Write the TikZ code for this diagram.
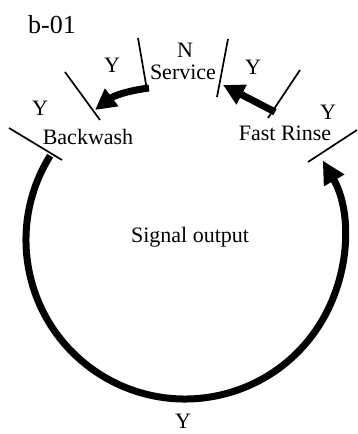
\documentclass[tikz,border=0pt]{standalone}
\usepackage{fontspec}
\setmainfont{Liberation Serif}
\usetikzlibrary{arrows.meta}

\tikzset{
	lbl/.style={inner sep=0pt, font=\fontsize{22}{24}\selectfont},
	tickline/.style={black, line width=1.7pt},
	flow/.style={black, line width=7pt, -{Triangle[length=21pt, width=21pt]}}
}

\begin{document}
\begin{tikzpicture}[x=1pt, y=1pt]
	\useasboundingbox (0,0) rectangle (357,434);
	% ticks between the states
	\coordinate (t1a) at (9,306);   \coordinate (t1b) at (62,274);
	\coordinate (t2a) at (65,362);  \coordinate (t2b) at (100,314);
	\coordinate (t3a) at (138,396); \coordinate (t3b) at (147,344);
	\coordinate (t4a) at (228,395); \coordinate (t4b) at (217,337);
	\coordinate (t5a) at (300,364); \coordinate (t5b) at (268,316);
	\coordinate (t6a) at (357,304); \coordinate (t6b) at (308,272);
	\foreach \i in {1,...,6}
		\draw[tickline] (t\i a) -- (t\i b);

	% labels
	\node[lbl, font=\fontsize{26}{28}\selectfont] (title) at (52,409) {b-01};
	\node[lbl] (n) at (185,384) {N};
	\node[lbl] (service) at (183,362) {Service};
	\node[lbl] (y1) at (112,369) {Y};
	\node[lbl] (y2) at (253,367) {Y};
	\node[lbl] (y3) at (40,326) {Y};
	\node[lbl] (backwash) at (88,297) {Backwash};
	\node[lbl] (rinse) at (285,301) {Fast Rinse};
	\node[lbl] (y4) at (328,322) {Y};
	\node[lbl] (signal) at (190,197) {Signal output};
	\node[lbl] (y5) at (183,13) {Y};

	% arrows
	\coordinate (s1) at (149,346); \coordinate (e1) at (95,324);
	\coordinate (s2) at (275,322); \coordinate (e2) at (223,349);
	\draw[flow] (s1) to[bend right=15] (e1);
	\draw[flow] (s2) -- (e2);
	\draw[flow, -{Triangle[length=23pt, width=22pt]}] (185,194) ++(148:159) arc[start angle=148, end angle=390, radius=159];
\end{tikzpicture}
\end{document}
